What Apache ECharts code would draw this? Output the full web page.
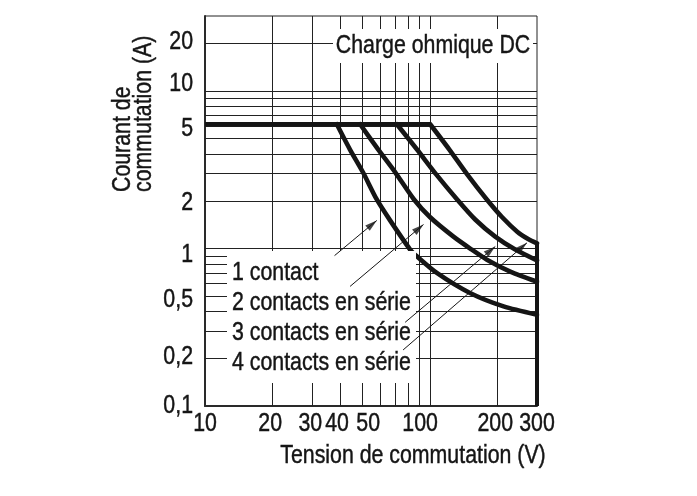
<!DOCTYPE html>
<html><head><meta charset="utf-8">
<script src="https://cdn.jsdelivr.net/npm/echarts@6/dist/echarts.min.js"></script>
<style>html,body{margin:0;padding:0;background:#fff}#c{width:697px;height:496px}</style>
</head><body><div id="c"></div>
<script>
const FONT = '"Liberation Sans",Arial,sans-serif';
const FONT_SIZE = 26;
const NARROW = 0.82;
const INK = '#151515';

// axis ranges
const xMin = 10, xMax = 300, yMin = 0.1, yMax = 30;
// grid lines
const xGridValues = [20, 30, 40, 50, 60, 70, 80, 90, 100, 200];
const yGridValues = [0.2, 0.3, 0.4, 0.5, 0.6, 0.7, 0.8, 0.9, 1, 2, 3, 4, 5, 6, 7, 8, 9, 10, 20];
// tick labels (text + where they sit in the picture)
const xTickLabels = ['10', '20', '30', '40', '50', '100', '200', '300'];
const xTickLabelAt = [10, 19.5, 29.4, 38.7, 53.2, 90.6, 195.6, 300];
const yTickLabels = ['0,1', '0,2', '0,5', '1', '2', '5', '10', '20'];
const yTickLabelAt = [0.1, 0.206, 0.473, 0.916, 1.963, 5.73, 11.08, 20.6];

// curves (V, A)
const ratedCurrent = [[10, 6.16], [100.4, 6.16]];
const curve1 = [[38.6, 6.16], [44.1, 4.27], [50.5, 3.04], [58.1, 2.05], [66.6, 1.51], [81.8, 0.985], [87.6, 0.893], [107.5, 0.70], [151, 0.522], [213, 0.429], [300, 0.38]];
const curve2 = [[49, 6.16], [58.9, 4.27], [70.2, 3.05], [85.1, 2.05], [100.4, 1.58], [127.5, 1.19], [151.3, 1.0], [179.6, 0.85], [228, 0.714], [300, 0.616]];
const curve3 = [[71.4, 6.16], [87.6, 4.27], [106.8, 2.96], [132.4, 2.05], [159.3, 1.53], [195.6, 1.19], [240, 0.985], [300, 0.84]];
const curve4 = [[100.4, 6.16], [122, 4.27], [146.7, 2.96], [179.4, 2.05], [210, 1.58], [245, 1.28], [274, 1.15], [300, 1.08]];
const voltageLimit = [[300, 1.1], [300, 0.1]];
// annotation arrows: [from, to]
const arrows = [
  [[37.7, 0.902], [58.1, 1.508]],
  [[44.2, 0.575], [93.8, 1.422]],
  [[77.7, 0.34], [195.6, 1.03]],
  [[76.1, 0.227], [270.6, 1.087]]
];
const legendTexts = ['1 contact', '2 contacts en série', '3 contacts en série', '4 contacts en série'];
const chartTitle = 'Charge ohmique DC';
const xName = 'Tension de commutation (V)';
const yName = 'Courant de\ncommutation (A)';

const chart = echarts.init(document.getElementById('c'), null, {renderer: 'canvas'});

function curveSeries(data) {
  return {type: 'line', data: data, showSymbol: false, smooth: 0.25, z: 2, silent: true,
    lineStyle: {width: 4.6, color: INK, cap: 'round', join: 'round'}};
}
function textEl(text, x, y, align, vAlign, extra) {
  return Object.assign({type: 'text', zlevel: 1, z: 10, silent: true, x: x, y: y, scaleX: NARROW,
    style: {text: text, font: FONT_SIZE + 'px ' + FONT, fill: INK, stroke: INK, lineWidth: 0.45,
      align: align, verticalAlign: vAlign}}, extra || {});
}

const baseOption = {
  animation: false,
  backgroundColor: '#fff',
  grid: {left: 205, right: 160, top: 16, bottom: 90, show: true, borderColor: '#222', borderWidth: 1, backgroundColor: 'transparent'},
  xAxis: {type: 'log', logBase: 10, min: xMin, max: xMax,
    axisLine: {show: true, lineStyle: {color: '#2a2a2a', width: 2}},
    axisTick: {show: false}, axisLabel: {show: false}, splitLine: {show: false}, minorSplitLine: {show: false}},
  yAxis: {type: 'log', logBase: 10, min: yMin, max: yMax,
    axisLine: {show: true, lineStyle: {color: '#2a2a2a', width: 2}},
    axisTick: {show: false}, axisLabel: {show: false}, splitLine: {show: false}, minorSplitLine: {show: false}},
  series: [
    {id: 'gridlines', type: 'line', data: [], z: 1, silent: true,
      markLine: {zlevel: 0, z: 1, silent: true, symbol: ['none', 'none'], label: {show: false},
        lineStyle: {type: 'solid', width: 1, color: '#222'}, emphasis: {disabled: true},
        data: xGridValues.map(v => ({xAxis: v})).concat(yGridValues.map(v => ({yAxis: v})))}},
    {type: 'line', data: ratedCurrent, showSymbol: false, z: 2, silent: true, lineStyle: {width: 4.6, color: INK}},
    curveSeries(curve1), curveSeries(curve2), curveSeries(curve3), curveSeries(curve4),
    {type: 'line', data: voltageLimit, showSymbol: false, z: 2, silent: true, lineStyle: {width: 4, color: INK}},
    {id: 'arrowLines', type: 'line', data: [], zlevel: 1, z: 5, silent: true,
      markLine: {zlevel: 1, z: 5, silent: true, symbol: ['none', 'none'], label: {show: false},
        lineStyle: {type: 'solid', width: 1, color: INK}, emphasis: {disabled: true},
        data: arrows.map(a => [{coord: a[0]}, {coord: a[1]}])}}
  ]
};
chart.setOption(baseOption);

const toPx = v => chart.convertToPixel({xAxisIndex: 0, yAxisIndex: 0}, v);

// arrow heads, oriented along each arrow in screen space
const headData = arrows.map(a => {
  const p0 = toPx(a[0]), p1 = toPx(a[1]);
  const ang = -Math.atan2(p1[0] - p0[0], -(p1[1] - p0[1])) * 180 / Math.PI;
  return {value: a[1], symbolRotate: ang};
});

const graphics = [
  {type: 'rect', zlevel: 1, z: 1, silent: true, shape: {x: 227, y: 251, width: 189, height: 132}, style: {fill: '#fff'}},
  {type: 'rect', zlevel: 1, z: 1, silent: true, shape: {x: 333, y: 29, width: 200, height: 34}, style: {fill: '#fff'}},
  textEl(chartTitle, 433, 46, 'center', 'middle'),
  textEl(xName, 413, 456, 'center', 'middle'),
  textEl(yName, 112, 192, 'left', 'top', {rotation: Math.PI / 2}),
];
graphics[graphics.length - 1].style.lineHeight = 21;
legendTexts.forEach((t, i) => graphics.push(textEl(t, 232, 272.5 + i * 30, 'left', 'middle')));
yTickLabels.forEach((t, i) => {
  const p = toPx([xMin, yTickLabelAt[i]]);
  graphics.push(textEl(t, p[0] - 12, p[1], 'right', 'middle', {zlevel: 0}));
});
xTickLabels.forEach((t, i) => {
  const p = toPx([xTickLabelAt[i], yMin]);
  graphics.push(textEl(t, p[0], p[1] + 5, 'center', 'top', {zlevel: 0}));
});

chart.setOption({
  series: [
    {id: 'arrowHeads', type: 'scatter', zlevel: 1, z: 6, silent: true, clip: false,
      symbol: 'path://M0,-12L0,-12M0,0L3.2,12L-3.2,12Z', symbolSize: [7, 24],
      itemStyle: {color: INK}, data: headData}
  ],
  graphic: graphics
});
</script>
</body></html>
